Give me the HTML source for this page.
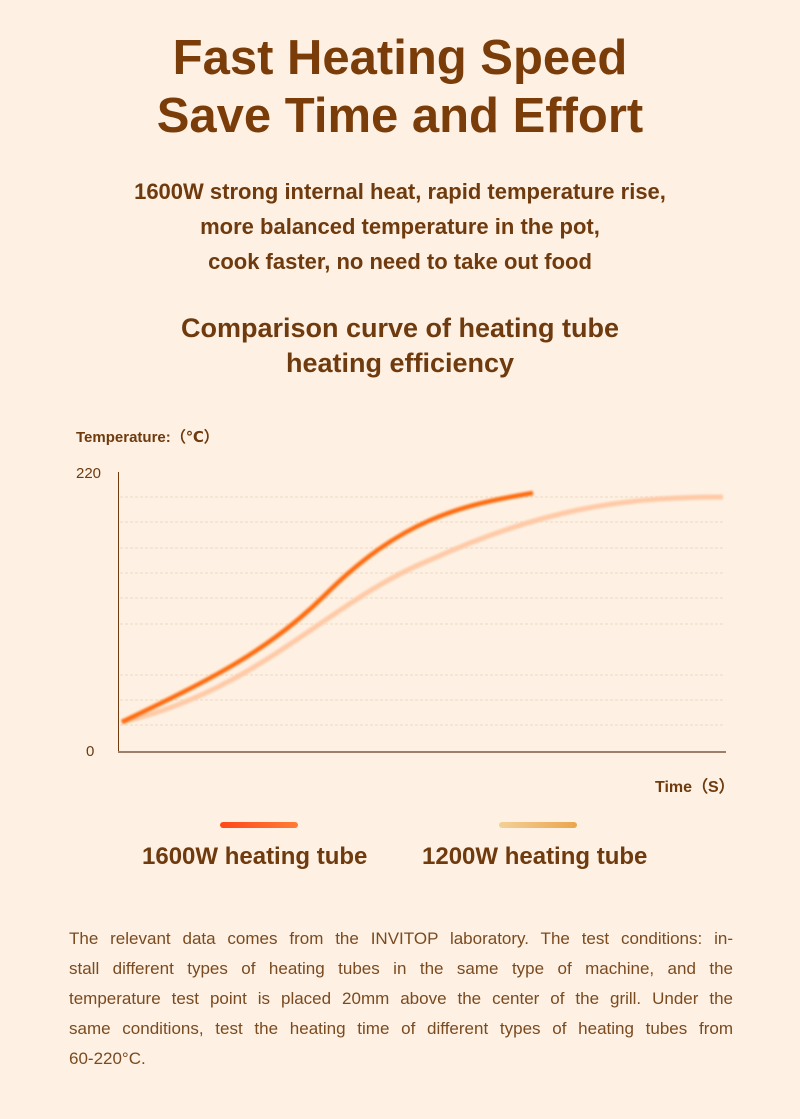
<!DOCTYPE html>
<html><head><style>
body{margin:0;width:800px;height:1119px;background:#fef1e3;font-family:"Liberation Sans","DejaVu Sans",sans-serif;color:#763c0c;position:relative;overflow:hidden}
.t{position:absolute;left:0;width:800px;text-align:center}
.p div{text-align:justify;text-align-last:justify;height:30px}
</style></head><body>
<div class="t" style="top:29px;font-size:49px;font-weight:bold;line-height:58px;color:#7a3d0a">Fast Heating Speed<br>Save Time and Effort</div>
<div class="t" style="top:174px;font-size:22px;font-weight:bold;line-height:35px;color:#6e3a0e">1600W strong internal heat, rapid temperature rise,<br>more balanced temperature in the pot,<br>cook faster, no need to take out food</div>
<div class="t" style="top:311px;font-size:27px;font-weight:bold;line-height:35px;color:#6e3a0e">Comparison curve of heating tube<br>heating efficiency</div>
<div style="position:absolute;left:76px;top:426px;font-size:15px;font-weight:bold;color:#6e3a0e">Temperature:（℃）</div>
<div style="position:absolute;left:76px;top:465px;font-size:15px;color:#6e3a0e">220</div>
<div style="position:absolute;left:86px;top:743px;font-size:15px;color:#6e3a0e">0</div>
<div style="position:absolute;left:655px;top:773px;font-size:16px;font-weight:bold;color:#6e3a0e">Time（S）</div>
<svg style="position:absolute;left:0;top:0" width="800" height="1119">
<defs><filter id="b"><feGaussianBlur stdDeviation="1"/></filter>
<linearGradient id="g1" gradientUnits="userSpaceOnUse" x1="223" x2="295" y1="0" y2="0"><stop offset="0" stop-color="#ff4a1a"/><stop offset="1" stop-color="#ff7a35"/></linearGradient>
<linearGradient id="g2" gradientUnits="userSpaceOnUse" x1="502" x2="574" y1="0" y2="0"><stop offset="0" stop-color="#f3cf95"/><stop offset="1" stop-color="#eca650"/></linearGradient></defs>
<g stroke="#ecd9c6" stroke-dasharray="3 2" stroke-width="1">
<line x1="120" x2="725" y1="497" y2="497"/><line x1="120" x2="725" y1="522" y2="522"/><line x1="120" x2="725" y1="548" y2="548"/><line x1="120" x2="725" y1="573" y2="573"/><line x1="120" x2="725" y1="598" y2="598"/><line x1="120" x2="725" y1="624" y2="624"/><line x1="120" x2="725" y1="675" y2="675"/><line x1="120" x2="725" y1="700" y2="700"/><line x1="120" x2="725" y1="725" y2="725"/></g>
<line x1="118.5" y1="472" x2="118.5" y2="752" stroke="#6e3a0e" stroke-width="1"/>
<line x1="118" y1="752" x2="726" y2="752" stroke="#a07f6a" stroke-width="2"/>
<path d="M122 722 C260 690,330 600,430 560 C540 510,620 497,723 497" fill="none" stroke="#ffc9a6" stroke-width="5" filter="url(#b)"/>
<path d="M122 722 C210 680,270 650,325 595 C400 520,460 505,533 493" fill="none" stroke="#ff6a10" stroke-width="4.5" filter="url(#b)"/>
<line x1="223" y1="825" x2="295" y2="825" stroke="url(#g1)" stroke-width="6" stroke-linecap="round"/>
<line x1="502" y1="825" x2="574" y2="825" stroke="url(#g2)" stroke-width="6" stroke-linecap="round"/>
</svg>
<div style="position:absolute;left:142px;top:843px;font-size:24px;font-weight:bold;color:#6e3a0e">1600W heating tube</div>
<div style="position:absolute;left:422px;top:843px;font-size:24px;font-weight:bold;color:#6e3a0e">1200W heating tube</div>
<div class="p" style="position:absolute;left:69px;top:924px;width:664px;font-size:17px;line-height:30px;color:#7a4a20">
<div>The relevant data comes from the INVITOP laboratory. The test conditions: in-</div>
<div>stall different types of heating tubes in the same type of machine, and the</div>
<div>temperature test point is placed 20mm above the center of the grill. Under the</div>
<div>same conditions, test the heating time of different types of heating tubes from</div>
<div style="text-align-last:left">60-220°C.</div>
</div>
</body></html>
